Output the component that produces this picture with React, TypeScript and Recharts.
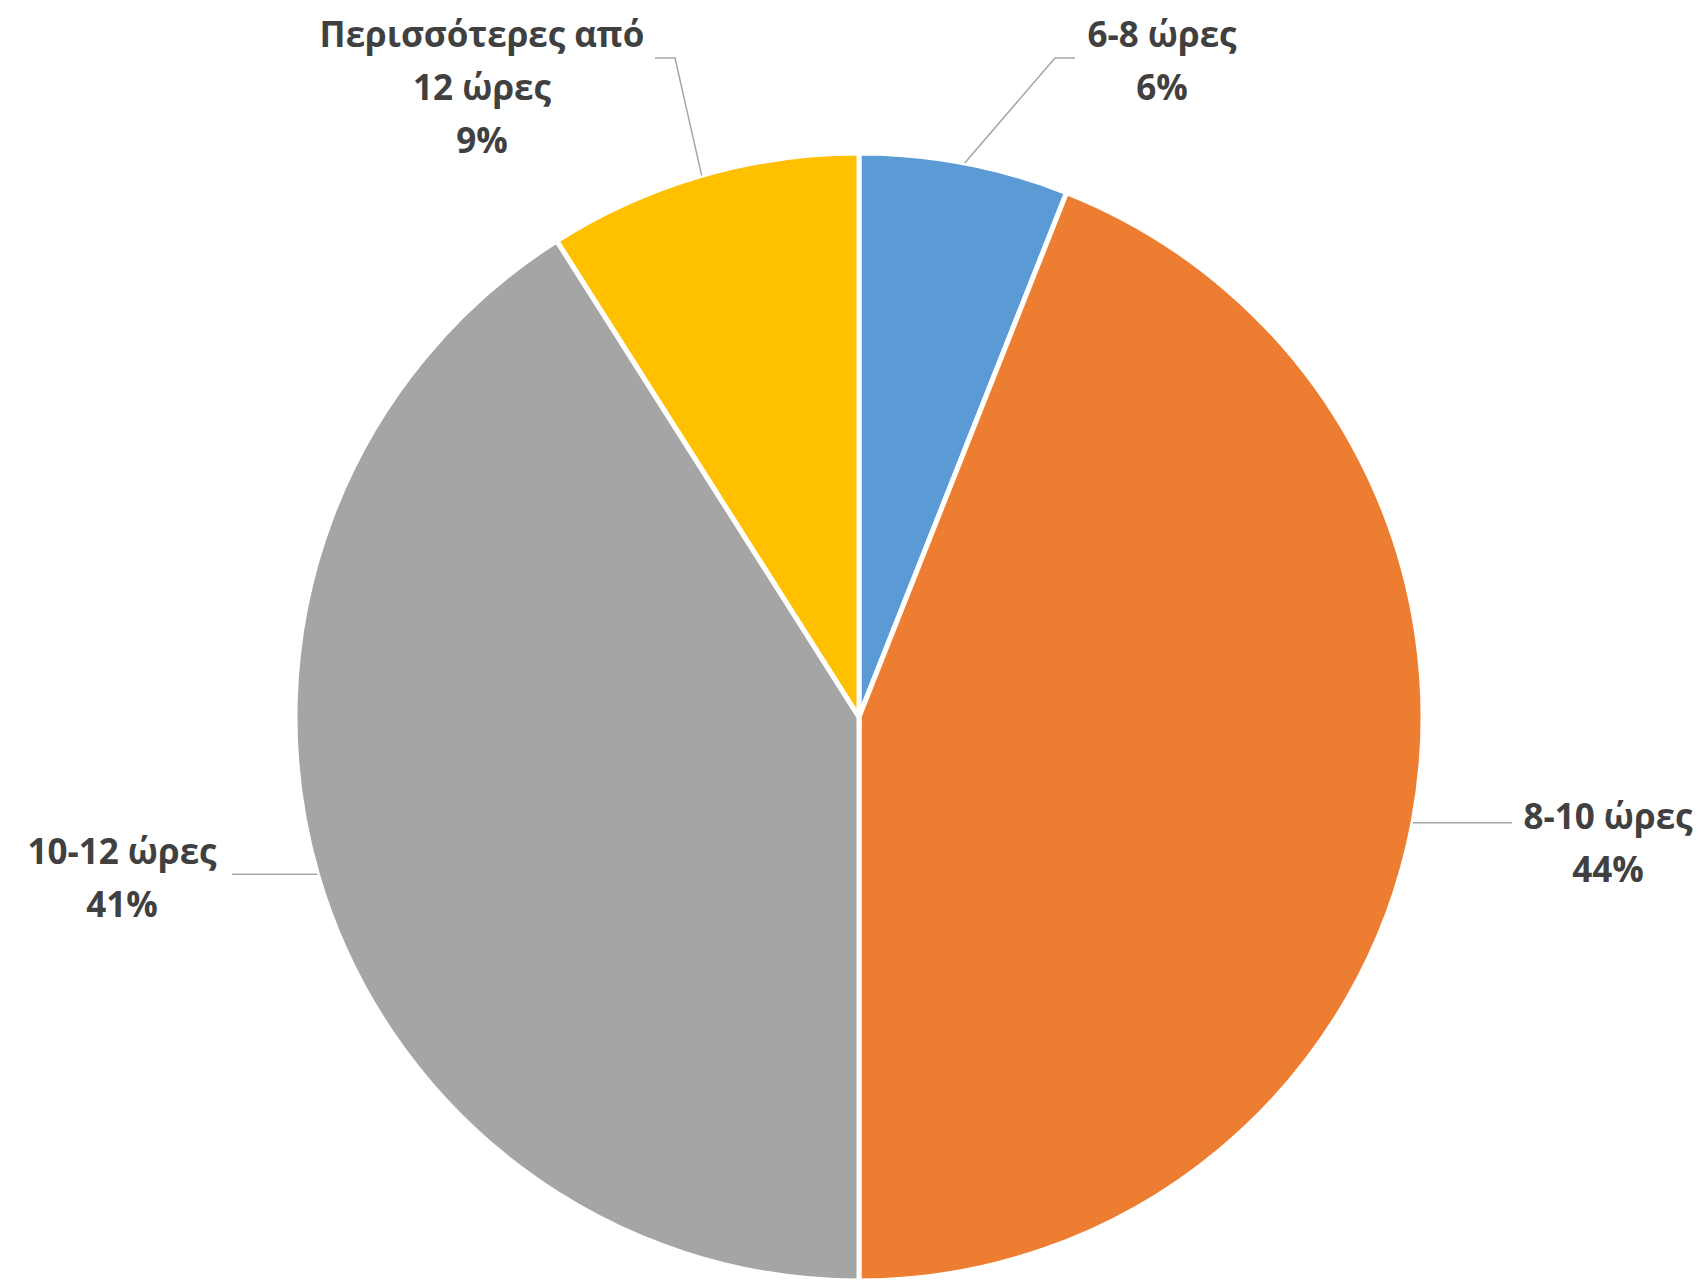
import React from 'react';
import { PieChart, Pie, Cell } from 'recharts';

const categories = ['6-8 ώρες', '8-10 ώρες', '10-12 ώρες', 'Περισσότερες από 12 ώρες'];
const shares = [6, 44, 41, 9];
const labelLines = [['6-8 ώρες'], ['8-10 ώρες'], ['10-12 ώρες'], ['Περισσότερες από', '12 ώρες']];

const colors = ['#5B9BD5', '#ED7D31', '#A5A5A5', '#FFC000'];

// label placement relative to the pie centre: text centre of first line, elbow, end of leader
// elbow/end y of null means "stay level with the slice edge"
const labelLayout = [
  { tx: 303, ty: -684, ex: 196, ey: -659, lx: 216, ly: -659 },
  { tx: 749, ty: 98, ex: 653, ey: null, lx: 653, ly: null },
  { tx: -737, ty: 133, ex: -627, ey: null, lx: -627, ly: null },
  { tx: -377, ty: -684, ex: -184, ey: -659, lx: -204, ly: -659 },
];

const data = categories.map((name, i) => ({ name, value: shares[i] }));

const RAD = Math.PI / 180;

const renderLabel = (props: any) => {
  const { cx, cy, midAngle, outerRadius, index, value } = props;
  const lay = labelLayout[index];
  const sx = cx + outerRadius * Math.cos(-midAngle * RAD);
  const sy = cy + outerRadius * Math.sin(-midAngle * RAD);
  const ey = lay.ey == null ? sy : cy + lay.ey;
  const ly = lay.ly == null ? sy : cy + lay.ly;
  const lines = [...labelLines[index], `${value}%`];
  return (
    <g>
      <polyline
        points={`${sx},${sy} ${cx + lay.ex},${ey} ${cx + lay.lx},${ly}`}
        fill="none"
        stroke="#A6A6A6"
        strokeWidth={1.5}
      />
      <text
        x={cx + lay.tx}
        y={cy + lay.ty}
        textAnchor="middle"
        dominantBaseline="central"
        fill="#404040"
        fontSize={35}
        fontWeight="bold"
        fontFamily="'Open Sans', 'Noto Sans', sans-serif"
      >
        {lines.map((l, k) => (
          <tspan key={k} x={cx + lay.tx} dy={k === 0 ? 0 : 53}>
            {l}
          </tspan>
        ))}
      </text>
    </g>
  );
};

export default function App() {
  return (
    <div style={{ position: 'absolute', left: 0, top: 0, background: '#fff' }}>
      <PieChart width={1706} height={1283}>
        <Pie
          data={data}
          dataKey="value"
          nameKey="name"
          cx={854}
          cy={712}
          outerRadius={564}
          startAngle={90}
          endAngle={-270}
          stroke="#fff"
          strokeWidth={5}
          label={renderLabel}
          labelLine={false}
          isAnimationActive={false}
        >
          {data.map((d, i) => (
            <Cell key={d.name} fill={colors[i]} />
          ))}
        </Pie>
      </PieChart>
    </div>
  );
}
